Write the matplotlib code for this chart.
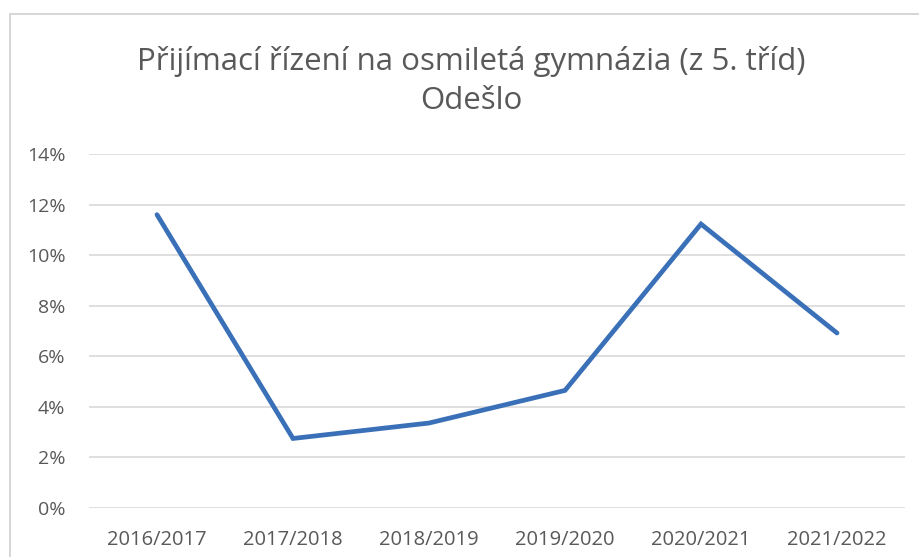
import matplotlib
matplotlib.use("Agg")
import matplotlib.pyplot as plt
from matplotlib.ticker import FuncFormatter
from matplotlib.patches import Rectangle

years = ["2016/2017", "2017/2018", "2018/2019", "2019/2020", "2020/2021", "2021/2022"]
values = [11.6, 2.75, 3.36, 4.65, 11.23, 6.92]
yticks = [0, 2, 4, 6, 8, 10, 12, 14]
title = "Přijímací řízení na osmiletá gymnázia (z 5. tříd)\nOdešlo"

plt.rcParams['font.family'] = ['Open Sans', 'DejaVu Sans']
grey = "#595959"

fig = plt.figure(figsize=(9.2, 5.57), dpi=100)
fig.patches.append(Rectangle((10/920, -0.1), 1.2, 1 - 14/557 + 0.1, transform=fig.transFigure,
                             fill=False, edgecolor="#d0d0d0", linewidth=1.2))
ax = fig.add_axes([89/920, 1 - 508/557, (905 - 89)/920, (508 - 154)/557])
x = list(range(len(years)))
ax.plot(x, values, color="#3a70b8", linewidth=3.4, solid_capstyle="round", solid_joinstyle="miter")
ax.set_xlim(-0.5, len(years) - 0.5)
ax.set_ylim(0, 14)
ax.set_yticks(yticks)
ax.yaxis.set_major_formatter(FuncFormatter(lambda v, p: f"{int(v)}%"))
ax.set_xticks(x)
ax.set_xticklabels(years)
ax.grid(axis="y", color="#d9d9d9", linewidth=1.2)
ax.set_axisbelow(True)
for s in ax.spines.values():
    s.set_visible(False)
ax.tick_params(length=0, colors=grey)
ax.tick_params(axis="y", pad=17, labelsize=14)
ax.tick_params(axis="x", pad=16, labelsize=14.5)
fig.text(471/920, 1 - 81/557, title, ha="center", va="center", color=grey, fontsize=22.5, linespacing=1.4)
fig.savefig("out.png", dpi=100)
